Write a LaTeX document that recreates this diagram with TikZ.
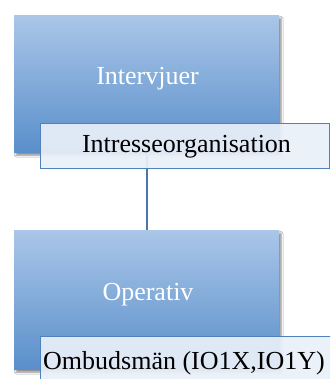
\documentclass[tikz,border=0pt]{standalone}
\usepackage{fontspec}
\setmainfont{Liberation Serif}
\usetikzlibrary{shadows.blur}
\definecolor{gtop}{HTML}{AAC6E8}
\definecolor{gbot}{HTML}{5A8FCB}
\definecolor{lblfill}{HTML}{EAF0F9}
\definecolor{lblline}{HTML}{4F81BD}
\definecolor{conn}{HTML}{4A76A8}
\tikzset{
  mainbox/.style={rectangle, inner sep=0pt, top color=gtop, bottom color=gbot,
    blur shadow={shadow xshift=2pt, shadow yshift=-3pt, shadow blur steps=6, shadow opacity=45}},
  lblbox/.style={rectangle, inner sep=0pt, draw=lblline, line width=1.3pt, fill=lblfill, fill opacity=0.92, text opacity=1},
  bigtxt/.style={inner sep=0pt, anchor=base, font=\fontsize{26}{30}\selectfont},
  connline/.style={draw=conn, line width=1.6pt}
}
\begin{document}
\begin{tikzpicture}[x=1pt,y=-1pt]
\useasboundingbox (0,0) rectangle (330,379);
\clip (0,0) rectangle (330,379);
\fill[white] (0,0) rectangle (330,379);
\node[mainbox, minimum width=265pt, minimum height=137pt, anchor=north west] (top) at (14,15) {};
\node[bigtxt, text=white] (toptxt) at (147.5,85) {Intervjuer};
\node[mainbox, minimum width=265pt, minimum height=139pt, anchor=north west] (bot) at (14,230) {};
\node[bigtxt, text=white] (bottxt) at (148,300) {Operativ};
\draw[connline] (top.south) -- (bot.north);
\node[lblbox, minimum width=289pt, minimum height=45pt, anchor=north west] (toplbl) at (40,123) {};
\node[bigtxt] (toplbltxt) at (186.5,153) {Intresseorganisation};
\node[lblbox, minimum width=300pt, minimum height=60pt, anchor=north west] (botlbl) at (40,336) {};
\node[bigtxt, anchor=base west] (botlbltxt) at (43,369) {Ombudsmän (IO1X,IO1Y)};
\end{tikzpicture}
\end{document}
